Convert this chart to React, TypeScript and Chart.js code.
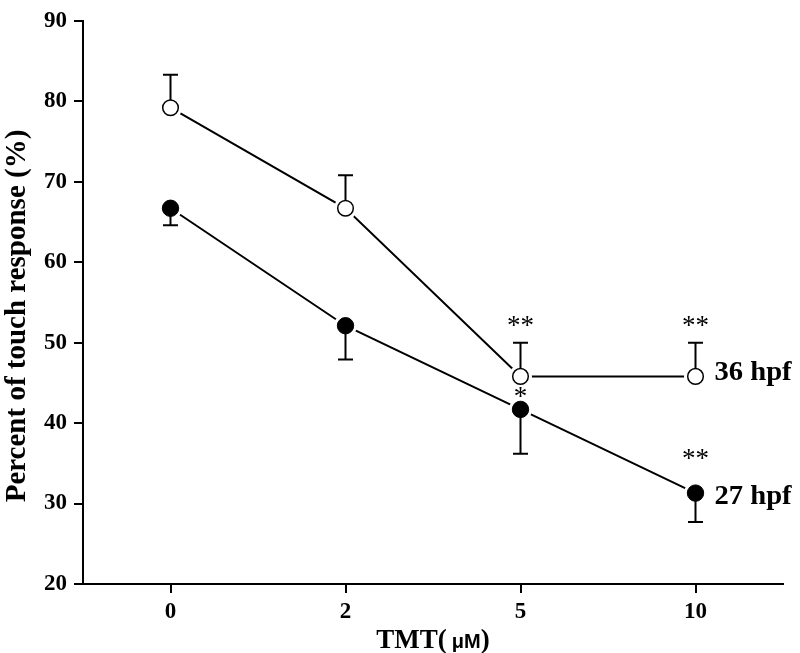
import React, { useEffect, useRef } from "react";
import { Chart, registerables } from "chart.js";

Chart.register(...registerables);

const doses = ["0", "2", "5", "10"];
const hpf36 = [79.2, 66.7, 45.8, 45.8];
const hpf36Upper = [83.3, 70.8, 50.0, 50.0];
const hpf27 = [66.7, 52.1, 41.7, 31.3];
const hpf27Lower = [64.6, 47.9, 36.2, 27.7];
const sig36 = ["", "", "**", "**"];
const sig27 = ["", "", "*", "**"];
const seriesNames = ["36 hpf", "27 hpf"];
const yMin = 20;
const yMax = 90;
const yStep = 10;
const yTitle = "Percent of touch response (%)";

const SERIF = '"Liberation Serif", "Times New Roman", serif';
const SANS = '"Liberation Sans", Arial, sans-serif';

const overlay = {
  id: "overlay",
  afterDatasetsDraw(chart: any) {
    const ctx = chart.ctx;
    const ys = chart.scales.y;
    const metas = chart.data.datasets.map((_: any, i: number) => chart.getDatasetMeta(i));
    metas.forEach((meta: any) => {
      meta.data.forEach((pt: any) => {
        ctx.save();
        ctx.fillStyle = "#fff";
        ctx.beginPath();
        ctx.arc(pt.x, pt.y, 11.5, 0, Math.PI * 2);
        ctx.fill();
        ctx.restore();
      });
    });
    chart.data.datasets.forEach((ds: any, di: number) => {
      const meta = metas[di];
      meta.data.forEach((pt: any, i: number) => {
        const ey = ys.getPixelForValue(ds.errEnd[i]);
        ctx.save();
        ctx.strokeStyle = "#000";
        ctx.lineWidth = 2;
        ctx.beginPath();
        ctx.moveTo(pt.x, pt.y);
        ctx.lineTo(pt.x, ey);
        ctx.moveTo(pt.x - 7.5, ey);
        ctx.lineTo(pt.x + 7.5, ey);
        ctx.stroke();
        ctx.restore();
      });
    });
    metas.forEach((meta: any) => {
      meta.data.forEach((pt: any) => pt.draw(ctx, chart.chartArea));
    });
  },
  afterDraw(chart: any) {
    const ctx = chart.ctx;
    const ys = chart.scales.y;
    const xs = chart.scales.x;
    const area = chart.chartArea;
    ctx.save();
    ctx.fillStyle = "#000";

    ctx.save();
    ctx.translate(25, 316);
    ctx.rotate(-Math.PI / 2);
    ctx.font = `bold 29px ${SERIF}`;
    ctx.textAlign = "center";
    ctx.textBaseline = "alphabetic";
    ctx.fillText(yTitle, 0, 0);
    ctx.restore();

    ctx.textBaseline = "alphabetic";
    ctx.textAlign = "left";
    const f1 = `bold 27px ${SERIF}`;
    const f2 = `bold 20px ${SANS}`;
    ctx.font = f1;
    const w1 = ctx.measureText("TMT(").width;
    const w3 = ctx.measureText(")").width;
    ctx.font = f2;
    const w2 = ctx.measureText("\u03bcM").width;
    const gap = 5;
    const total = w1 + gap + w2 + w3;
    let sx = (area.left + area.right) / 2 - total / 2;
    const by = 648;
    ctx.font = f1;
    ctx.fillText("TMT(", sx, by);
    sx += w1 + gap;
    ctx.font = f2;
    ctx.fillText("\u03bcM", sx, by);
    sx += w2;
    ctx.font = f1;
    ctx.fillText(")", sx, by);

    ctx.font = `27px ${SERIF}`;
    ctx.textAlign = "center";
    doses.forEach((_, i) => {
      const px = xs.getPixelForValue(i);
      if (sig36[i]) {
        const cy = ys.getPixelForValue(hpf36Upper[i]);
        ctx.fillText(sig36[i], px, cy - 9);
      }
      if (sig27[i]) {
        const py = ys.getPixelForValue(hpf27[i]);
        const off = sig27[i].length > 1 ? 26 : 4;
        ctx.fillText(sig27[i], px, py - off);
      }
    });

    const last = doses.length - 1;
    const lx = xs.getPixelForValue(last) + 19;
    const labelData = [
      { text: seriesNames[0], y: ys.getPixelForValue(hpf36[last]) + 4 },
      { text: seriesNames[1], y: ys.getPixelForValue(hpf27[last]) + 11 },
    ];
    ctx.font = `bold 27px ${SERIF}`;
    ctx.textAlign = "left";
    labelData.forEach((l) => {
      ctx.save();
      ctx.translate(lx, l.y);
      ctx.scale(1.06, 1);
      ctx.fillText(l.text, 0, 0);
      ctx.restore();
    });
    ctx.restore();
  },
};

export default function App() {
  const ref = useRef<HTMLCanvasElement | null>(null);
  useEffect(() => {
    if (!ref.current) return;
    const tickFont = { family: SERIF, size: 23, weight: "bold" as const };
    const chart = new Chart(ref.current, {
      type: "line",
      data: {
        labels: doses,
        datasets: [
          {
            label: seriesNames[0],
            data: hpf36,
            errEnd: hpf36Upper,
            borderColor: "#000",
            borderWidth: 2,
            pointRadius: 7.8,
            pointBorderWidth: 1.5,
            pointBorderColor: "#000",
            pointBackgroundColor: "#fff",
            tension: 0,
          } as any,
          {
            label: seriesNames[1],
            data: hpf27,
            errEnd: hpf27Lower,
            borderColor: "#000",
            borderWidth: 2,
            pointRadius: 8.2,
            pointBorderWidth: 1,
            pointBorderColor: "#000",
            pointBackgroundColor: "#000",
            tension: 0,
          } as any,
        ],
      },
      options: {
        responsive: false,
        animation: false,
        events: [],
        layout: { padding: { left: 0, top: 15, right: 17, bottom: 0 } },
        plugins: {
          legend: { display: false },
          tooltip: { enabled: false },
          title: { display: false },
        },
        scales: {
          x: {
            type: "category",
            offset: true,
            grid: {
              display: true,
              drawOnChartArea: false,
              drawTicks: true,
              tickLength: 9,
              color: "#000",
              lineWidth: 2,
              offset: false,
            },
            border: { display: true, color: "#000", width: 2 },
            ticks: { color: "#000", font: tickFont, padding: 5, maxRotation: 0 },
            afterFit: (s: any) => {
              s.height = 69;
            },
          },
          y: {
            min: yMin,
            max: yMax,
            grid: {
              display: true,
              drawOnChartArea: false,
              drawTicks: true,
              tickLength: 9,
              color: "#000",
              lineWidth: 2,
            },
            border: { display: true, color: "#000", width: 2 },
            ticks: { stepSize: yStep, color: "#000", font: tickFont, padding: 7 },
            afterFit: (s: any) => {
              s.width = 83;
            },
          },
        },
      } as any,
      plugins: [overlay],
    });
    return () => chart.destroy();
  }, []);
  return (
    <div style={{ position: "absolute", left: 0, top: 0, width: 800, height: 653, background: "#fff" }}>
      <canvas ref={ref} width={800} height={653} />
    </div>
  );
}
